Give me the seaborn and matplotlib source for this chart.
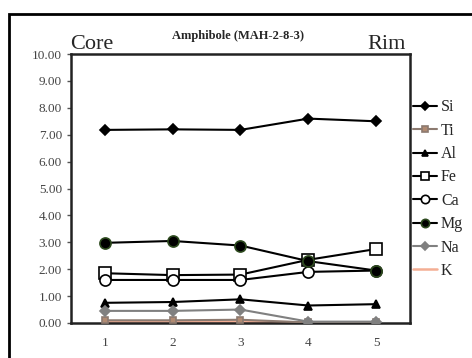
import matplotlib
matplotlib.use('Agg')
import matplotlib.pyplot as plt
import seaborn as sns
import pandas as pd
from matplotlib.patches import Rectangle

# Data (a.p.f.u. along the core -> rim traverse)
points = [1, 2, 3, 4, 5]
elements = ['Si', 'Ti', 'Al', 'Fe', 'Ca', 'Mg', 'Na', 'K']
si = [7.18, 7.20, 7.18, 7.60, 7.50]
ti = [0.10, 0.10, 0.12, 0.02, 0.02]
al = [0.75, 0.78, 0.88, 0.65, 0.70]
fe = [1.85, 1.78, 1.80, 2.35, 2.75]
ca = [1.60, 1.60, 1.60, 1.90, 1.95]
mg = [2.98, 3.05, 2.88, 2.30, 1.95]
na = [0.45, 0.45, 0.50, 0.05, 0.05]
k = [0.05, 0.05, 0.05, 0.02, 0.02]
values = [si, ti, al, fe, ca, mg, na, k]

rows = []
for el, vals in zip(elements, values):
    for p, v in zip(points, vals):
        rows.append({'Point': p, 'Element': el, 'Value': v})
df = pd.DataFrame(rows)

sns.set_style('white')
plt.rcParams['font.family'] = ['Liberation Serif', 'DejaVu Serif']

fig = plt.figure(figsize=(4.72, 3.58), dpi=100)
ax = fig.add_axes([0.1504, 0.0978, 0.7182, 0.7512])

# marker styles per element: (color, marker, size, facecolor, edgecolor)
styles = {
    'Si': ('black', 'D', 5, 'black', 'black'),
    'Ti': ('#8c7a70', 's', 5, '#b08a72', '#8c7a70'),
    'Al': ('black', '^', 6, 'black', 'black'),
    'Fe': ('black', 's', 8, 'white', 'black'),
    'Ca': ('black', 'o', 8, 'white', 'black'),
    'Mg': ('black', 'o', 8, 'black', '#2d4a1e'),
    'Na': ('#808080', 'D', 5, '#808080', '#808080'),
    'K': ('#f4ae94', None, 0, 'none', 'none'),
}

# x positions as categories 0..4
df['x'] = df['Point'] - 1
for el in elements:
    c, m, s, fc, ec = styles[el]
    sub = df[df['Element'] == el]
    sns.lineplot(data=sub, x='x', y='Value', ax=ax, color=c, marker=m,
                 markersize=s, markerfacecolor=fc, markeredgecolor=ec,
                 markeredgewidth=1.2, linewidth=1.5 if el != 'K' else 1.8,
                 label=el, zorder=3 if el != 'K' else 2)

ax.set_xlim(-0.5, 4.5)
ax.set_ylim(0, 10)
ax.set_xticks(range(len(points)))
ax.set_xticklabels([str(p) for p in points])
ax.set_yticks([i for i in range(11)])
ax.set_yticklabels(['%.2f' % i for i in range(11)])
ax.set_xlabel('')
ax.set_ylabel('')
ax.tick_params(axis='y', which='major', direction='out', length=3, width=1,
               color='#555555', labelsize=9.5, labelcolor='#444444', left=True)
ax.tick_params(axis='x', which='major', length=0, labelsize=9.5,
               labelcolor='#444444', pad=10)
for sp in ax.spines.values():
    sp.set_color('#222222')
    sp.set_linewidth(1.8)

leg = ax.legend(loc='upper left', bbox_to_anchor=(0.99, 0.855), frameon=False,
                fontsize=11.5, handlelength=1.5, handletextpad=0.25,
                labelspacing=0.46, borderaxespad=0, markerscale=0.75)

fig.text(0.505, 0.9, 'Amphibole (MAH-2-8-3)', ha='center', va='center',
         fontsize=9, fontweight='bold')
fig.text(0.148, 0.875, 'Core', ha='left', va='center', fontsize=16)
fig.text(0.86, 0.875, 'Rim', ha='right', va='center', fontsize=16)

# outer chart frame (cropped at right and bottom)
fig.patches.append(Rectangle((0.019, -0.1), 1.1, 1.062, transform=fig.transFigure,
                             fill=False, edgecolor='black', linewidth=2))

fig.savefig('out.png', dpi=100)
